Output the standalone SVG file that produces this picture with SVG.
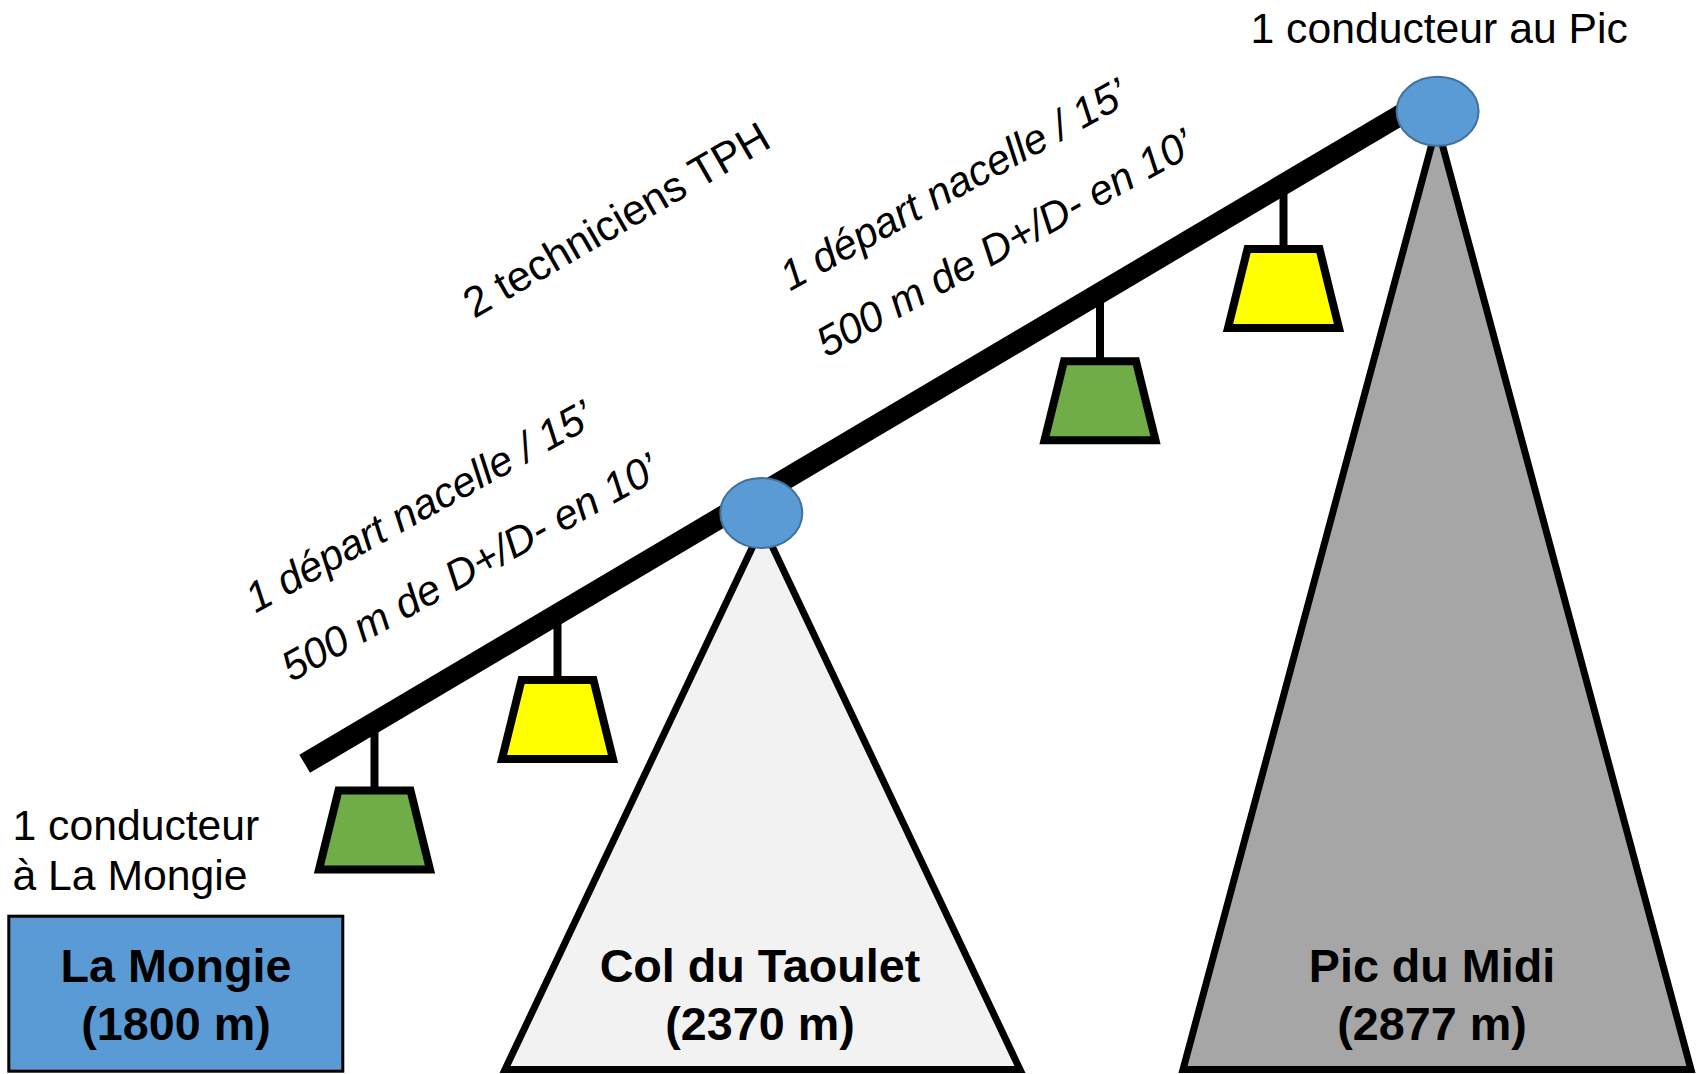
<svg xmlns="http://www.w3.org/2000/svg" width="1700" height="1074" viewBox="0 0 1700 1074">
<style>
.t{font-family:"Liberation Sans",Arial,sans-serif;font-size:42.7px;fill:#000}
.i{font-style:italic;font-size:42px}
.b{font-family:"Liberation Sans",Arial,sans-serif;font-size:46.7px;font-weight:bold;fill:#000;text-anchor:middle}
.mt{stroke:#000;stroke-width:7;stroke-linejoin:miter}
.gd{stroke:#000;stroke-width:8;stroke-linejoin:miter}
.hg{stroke:#000;stroke-width:8}
.st{fill:#5B9BD5;stroke:#41719C;stroke-width:2}
</style>
<rect width="1700" height="1074" fill="#fff"/>
<g id="col-du-taoulet">
<polygon class="mt" points="762.5,526 1020,1069.5 505,1069.5" fill="#F2F2F2"/>
<text class="b" x="760" y="982">Col du Taoulet</text>
<text class="b" x="760" y="1040">(2370 m)</text>
</g>
<g id="pic-du-midi">
<polygon class="mt" points="1437,125 1691,1069.5 1183,1069.5" fill="#A6A6A6"/>
<text class="b" x="1432" y="982">Pic du Midi</text>
<text class="b" x="1432" y="1040">(2877 m)</text>
</g>
<g id="la-mongie">
<rect x="8.8" y="916.2" width="334" height="155" fill="#5B9BD5" stroke="#000" stroke-width="3"/>
<text class="b" x="176" y="982">La Mongie</text>
<text class="b" x="176" y="1040">(1800 m)</text>
</g>
<g id="connectors">
<line x1="304.7" y1="763.8" x2="1420" y2="103.5" stroke="#000" stroke-width="21"/>
<line class="hg" x1="374.5" y1="722" x2="374.5" y2="790"/>
<line class="hg" x1="557.5" y1="614" x2="557.5" y2="680"/>
<line class="hg" x1="1100" y1="293" x2="1100" y2="361"/>
<line class="hg" x1="1283.5" y1="184" x2="1283.5" y2="249"/>
</g>
<g id="gondola-green-1">
<polygon class="gd" fill="#70AD47" points="338.5,790.5 410.5,790.5 430,869.5 319,869.5"/>
</g>
<g id="gondola-yellow-1">
<polygon class="gd" fill="#FFFF00" points="521.5,680 593.5,680 613,759 502,759"/>
</g>
<g id="gondola-green-2">
<polygon class="gd" fill="#70AD47" points="1064,361.3 1136,361.3 1155.5,440.3 1044.5,440.3"/>
</g>
<g id="gondola-yellow-2">
<polygon class="gd" fill="#FFFF00" points="1247.5,249 1319.5,249 1339,328 1228,328"/>
</g>
<g id="station-col">
<ellipse class="st" cx="761.3" cy="513" rx="41" ry="35"/>
</g>
<g id="station-pic">
<ellipse class="st" cx="1437.6" cy="111.3" rx="41" ry="34.5"/>
</g>
<g id="labels">
<text class="t" x="1250.5" y="42.7">1 conducteur au Pic</text>
<text class="t" x="12.5" y="840">1 conducteur</text>
<text class="t" x="12.5" y="890">à La Mongie</text>
<text class="t" transform="translate(474 319) rotate(-30)">2 techniciens TPH</text>
<text class="t i" transform="translate(255.4 613.6) rotate(-29)">1 départ nacelle / 15’</text>
<text class="t i" transform="translate(291.4 682.6) rotate(-29)">500 m de D+/D- en 10’</text>
<text class="t i" transform="translate(789.9 291.4) rotate(-29)">1 départ nacelle / 15’</text>
<text class="t i" transform="translate(826.4 358.1) rotate(-29)">500 m de D+/D- en 10’</text>
</g>
</svg>
